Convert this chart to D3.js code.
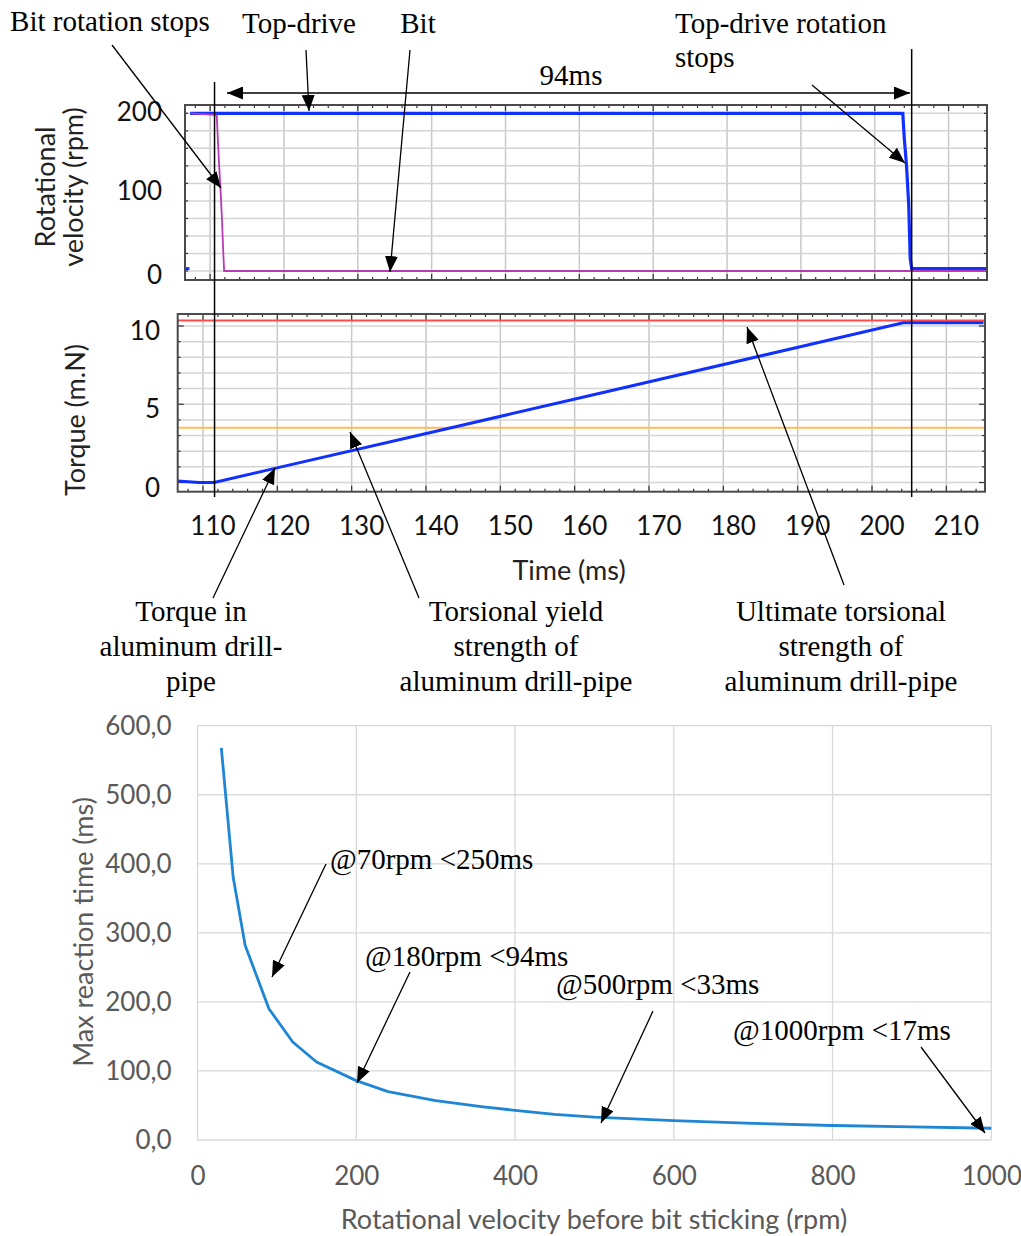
<!DOCTYPE html>
<html>
<head>
<meta charset="utf-8">
<script src="https://cdn.jsdelivr.net/npm/d3@7/dist/d3.min.js"></script>
<style>
  body { margin: 0; background: #fff; }
  svg { display: block; }
</style>
</head>
<body>
<div id="chart"></div>
<script>
// ---- data ----
const timeTicks = [110, 120, 130, 140, 150, 160, 170, 180, 190, 200, 210];
const rpmTicks = [0, 100, 200];
const torqueTicks = [0, 5, 10];

// top-drive rotational velocity (rpm)
const topDriveT = [107.3, 203.8, 204.0, 204.3, 204.6, 204.8, 205.0, 215.2];
const topDriveRpm = [200, 200, 168, 134, 84, 16, 3, 3];
const topDriveStartT = [106.7, 107.2];
const topDriveStartRpm = [3, 3];

// bit rotational velocity (rpm)
const bitT = [107.4, 110.7, 110.9, 111.2, 111.4, 111.6, 111.8, 111.9, 215.2];
const bitRpm = [200, 198, 197, 138, 105, 67, 20, 0, 0];

// torque in aluminum drill-pipe (m.N)
const torqueT = [106.6, 108, 109.5, 111.5, 120.1, 143.1, 163.4, 190.2, 204.2, 215];
const torqueVal = [0.1, 0.05, 0.0, 0.0, 0.95, 3.47, 5.7, 8.66, 10.2, 10.2];
const yieldStrength = 3.5;
const ultimateStrength = 10.35;

// max reaction time vs rotational velocity before bit sticking
const rpmBefore = [30, 45, 60, 90, 120, 150, 200, 240, 300, 360, 400, 450, 500, 600, 700, 800, 900, 1000];
const reactionMs = [568, 380, 282, 190, 142, 113, 86, 70, 57, 48, 43, 37, 33, 28, 24, 21, 19, 17];
const rpmAxisTicks = [0, 200, 400, 600, 800, 1000];
const msAxisTicks = [0, 100, 200, 300, 400, 500, 600];

// ---- layout ----
const W = 1021, H = 1236;
const sans = 'Lato, "Open Sans", sans-serif';
const serif = '"Liberation Serif", "Times New Roman", serif';
const noteSize = 29;

const svg = d3.select('#chart').append('svg')
  .attr('width', W).attr('height', H)
  .attr('viewBox', `0 0 ${W} ${H}`);
svg.append('rect').attr('width', W).attr('height', H).attr('fill', '#fff');

const defs = svg.append('defs');
defs.append('marker')
  .attr('id', 'arrow')
  .attr('markerUnits', 'userSpaceOnUse')
  .attr('markerWidth', 17).attr('markerHeight', 13)
  .attr('refX', 16).attr('refY', 6.5)
  .attr('orient', 'auto-start-reverse')
  .append('path').attr('d', 'M0,0 L16,6.5 L0,13 Z').attr('fill', '#000');

const tDomain = [106.6, 215.2];
const topBox = { l: 185, r: 987, t: 105, b: 280 };
const midBox = { l: 177.7, r: 985, t: 314, b: 491.7 };

const xTop = d3.scaleLinear().domain(tDomain).range([topBox.l, topBox.r]);
const xMid = d3.scaleLinear().domain(tDomain).range([midBox.l, midBox.r]);
const yTop = d3.scaleLinear().domain([0, 200]).range([271, 113.3]);
const yMid = d3.scaleLinear().domain([0, 10]).range([482.5, 326]);

// grid + inward ticks for the two scope-style panels
function panel(box, x, y, hGrid, majorY) {
  const g = svg.append('g');
  g.append('g').selectAll('line').data(timeTicks).join('line')
    .attr('x1', d => x(d)).attr('x2', d => x(d))
    .attr('y1', box.t).attr('y2', box.b)
    .attr('stroke', '#c8c8c8').attr('stroke-width', 1.5);
  g.append('g').selectAll('line').data(hGrid).join('line')
    .attr('x1', box.l).attr('x2', box.r)
    .attr('y1', d => y(d)).attr('y2', d => y(d))
    .attr('stroke', '#d4d4d4').attr('stroke-width', 1.5);
  const minorT = d3.range(108, 215, 2);
  const tk = g.append('g').attr('stroke', '#333').attr('stroke-width', 1.2);
  minorT.forEach(t => {
    const len = timeTicks.includes(t) ? 6 : 3;
    tk.append('line').attr('x1', x(t)).attr('x2', x(t)).attr('y1', box.t).attr('y2', box.t + len);
    tk.append('line').attr('x1', x(t)).attr('x2', x(t)).attr('y1', box.b).attr('y2', box.b - len);
  });
  hGrid.forEach(v => {
    const len = majorY.includes(v) ? 6 : 3;
    tk.append('line').attr('x1', box.l).attr('x2', box.l + len).attr('y1', y(v)).attr('y2', y(v));
    tk.append('line').attr('x1', box.r).attr('x2', box.r - len).attr('y1', y(v)).attr('y2', y(v));
  });
  return g;
}

function frame(box) {
  svg.append('rect')
    .attr('x', box.l).attr('y', box.t)
    .attr('width', box.r - box.l).attr('height', box.b - box.t)
    .attr('fill', 'none').attr('stroke', '#4a4a4a').attr('stroke-width', 2);
}

// ---- top panel: rotational velocity ----
const rpmGrid = d3.range(0, 10).map(i => i * 200 / 9);
panel(topBox, xTop, yTop, rpmGrid, []);

const lineTop = d3.line().x(d => xTop(d[0])).y(d => yTop(d[1]));
svg.append('path')
  .datum(topDriveStartT.map((t, i) => [t, topDriveStartRpm[i]]))
  .attr('d', lineTop).attr('fill', 'none')
  .attr('stroke', '#1030ff').attr('stroke-width', 3);
svg.append('path')
  .datum(topDriveT.map((t, i) => [t, topDriveRpm[i]]))
  .attr('d', lineTop).attr('fill', 'none')
  .attr('stroke', '#1030ff').attr('stroke-width', 3.2);
svg.append('path')
  .datum(bitT.map((t, i) => [t, bitRpm[i]]))
  .attr('d', lineTop).attr('fill', 'none')
  .attr('stroke', '#b83ab8').attr('stroke-width', 1.8);
frame(topBox);

svg.append('g').selectAll('text').data(rpmTicks).join('text')
  .attr('x', 162).attr('y', d => yTop(d) + (d === 0 ? 13 : 8))
  .attr('text-anchor', 'end')
  .attr('font-family', sans).attr('font-size', 26).attr('fill', '#111')
  .text(d => d);

svg.append('text')
  .attr('transform', 'translate(55,187) rotate(-90)')
  .attr('text-anchor', 'middle')
  .attr('font-family', sans).attr('font-size', 27).attr('fill', '#222')
  .text('Rotational');
svg.append('text')
  .attr('transform', 'translate(83,187) rotate(-90)')
  .attr('text-anchor', 'middle')
  .attr('font-family', sans).attr('font-size', 27).attr('fill', '#222')
  .text('velocity (rpm)');

// ---- middle panel: torque ----
panel(midBox, xMid, yMid, d3.range(0, 11), torqueTicks);

svg.append('line')
  .attr('x1', midBox.l).attr('x2', midBox.r)
  .attr('y1', yMid(ultimateStrength)).attr('y2', yMid(ultimateStrength))
  .attr('stroke', '#ff4a4a').attr('stroke-width', 1.8);
svg.append('line')
  .attr('x1', midBox.l).attr('x2', midBox.r)
  .attr('y1', yMid(yieldStrength)).attr('y2', yMid(yieldStrength))
  .attr('stroke', '#ffbb55').attr('stroke-width', 2);

const lineMid = d3.line().x(d => xMid(d[0])).y(d => yMid(d[1]));
svg.append('path')
  .datum(torqueT.map((t, i) => [t, torqueVal[i]]))
  .attr('d', lineMid).attr('fill', 'none')
  .attr('stroke', '#1030ff').attr('stroke-width', 3);
frame(midBox);

svg.append('g').selectAll('text').data(torqueTicks).join('text')
  .attr('x', 160).attr('y', d => yMid(d) + 14)
  .attr('text-anchor', 'end')
  .attr('font-family', sans).attr('font-size', 26).attr('fill', '#111')
  .text(d => d);

svg.append('text')
  .attr('transform', 'translate(85,420) rotate(-90)')
  .attr('text-anchor', 'middle')
  .attr('font-family', sans).attr('font-size', 27).attr('fill', '#222')
  .text('Torque (m.N)');

// time axis labels
svg.append('g').selectAll('text').data(timeTicks).join('text')
  .attr('x', d => xMid(d) + 10).attr('y', 535)
  .attr('text-anchor', 'middle')
  .attr('font-family', sans).attr('font-size', 26).attr('fill', '#111')
  .text(d => d);
svg.append('text')
  .attr('x', 569).attr('y', 580)
  .attr('text-anchor', 'middle')
  .attr('font-family', sans).attr('font-size', 27).attr('fill', '#222')
  .text('Time (ms)');

// event lines (bit stops / top-drive stops)
const bitStop = 110.6, driveStop = 205.0;
svg.append('line')
  .attr('x1', xTop(bitStop)).attr('x2', xTop(bitStop))
  .attr('y1', 82).attr('y2', 497)
  .attr('stroke', '#000').attr('stroke-width', 1.5);
svg.append('line')
  .attr('x1', xTop(driveStop)).attr('x2', xTop(driveStop))
  .attr('y1', 49).attr('y2', 497)
  .attr('stroke', '#000').attr('stroke-width', 1.5);

// ---- annotations ----
function note(lines, x, y, anchor, lh) {
  const t = svg.append('text')
    .attr('font-family', serif).attr('font-size', noteSize).attr('fill', '#000')
    .attr('text-anchor', anchor);
  lines.forEach((s, i) => t.append('tspan').attr('x', x).attr('y', y + i * lh).text(s));
}
function arrow(x1, y1, x2, y2, both) {
  const l = svg.append('line')
    .attr('x1', x1).attr('y1', y1).attr('x2', x2).attr('y2', y2)
    .attr('stroke', '#000').attr('stroke-width', 1.3)
    .attr('marker-end', 'url(#arrow)');
  if (both) l.attr('marker-start', 'url(#arrow)');
}

note(['Bit rotation stops'], 110, 31, 'middle', 0);
arrow(112, 45, 221, 188);
note(['Top-drive'], 299, 33, 'middle', 0);
arrow(306, 50, 309, 111);
note(['Bit'], 418, 33, 'middle', 0);
arrow(410, 50, 390, 272);
note(['Top-drive rotation', 'stops'], 675, 33, 'start', 34);
arrow(812, 85, 905, 163);
note(['94ms'], 571, 85, 'middle', 0);
arrow(227, 93, 910, 93, true);

note(['Torque in', 'aluminum drill-', 'pipe'], 191, 621, 'middle', 35);
arrow(213, 598, 275, 468);
note(['Torsional yield', 'strength of', 'aluminum drill-pipe'], 516, 621, 'middle', 35);
arrow(419, 598, 350, 432);
note(['Ultimate torsional', 'strength of', 'aluminum drill-pipe'], 841, 621, 'middle', 35);
arrow(844, 585, 747, 327);

// ---- bottom chart: max reaction time ----
const bot = { l: 197.5, r: 991.3, t: 725.7, b: 1140 };
const xB = d3.scaleLinear().domain([0, 1000]).range([bot.l, bot.r]);
const yB = d3.scaleLinear().domain([0, 600]).range([bot.b, bot.t]);

const gb = svg.append('g');
gb.append('g').selectAll('line').data(msAxisTicks).join('line')
  .attr('x1', bot.l).attr('x2', bot.r)
  .attr('y1', d => yB(d)).attr('y2', d => yB(d))
  .attr('stroke', '#d9d9d9').attr('stroke-width', 1.3);
gb.append('g').selectAll('line').data(rpmAxisTicks).join('line')
  .attr('x1', d => xB(d)).attr('x2', d => xB(d))
  .attr('y1', bot.t).attr('y2', bot.b)
  .attr('stroke', '#d9d9d9').attr('stroke-width', 1.3);

gb.append('path')
  .datum(rpmBefore.map((r, i) => [r, reactionMs[i]]))
  .attr('d', d3.line().x(d => xB(d[0])).y(d => yB(d[1])))
  .attr('fill', 'none').attr('stroke', '#1f86d6').attr('stroke-width', 2.8)
  .attr('stroke-linejoin', 'round');

const yAxisB = gb.append('g')
  .attr('transform', `translate(${bot.l},0)`)
  .call(d3.axisLeft(yB).tickValues(msAxisTicks).tickSize(0).tickPadding(26)
    .tickFormat(d => d3.format('.1f')(d).replace('.', ',')));
const xAxisB = gb.append('g')
  .attr('transform', `translate(0,${bot.b})`)
  .call(d3.axisBottom(xB).tickValues(rpmAxisTicks).tickSize(0).tickPadding(27)
    .tickFormat(d => String(d)));
[yAxisB, xAxisB].forEach(a => {
  a.select('.domain').remove();
  a.selectAll('text').attr('font-family', sans).attr('font-size', 26).attr('fill', '#595959');
});

gb.append('text')
  .attr('transform', 'translate(93,932) rotate(-90)')
  .attr('text-anchor', 'middle')
  .attr('font-family', sans).attr('font-size', 27).attr('fill', '#595959')
  .text('Max reaction time (ms)');
gb.append('text')
  .attr('x', 594).attr('y', 1229)
  .attr('text-anchor', 'middle')
  .attr('font-family', sans).attr('font-size', 27).attr('fill', '#595959')
  .text('Rotational velocity before bit sticking (rpm)');

note(['@70rpm <250ms'], 330, 869, 'start', 0);
arrow(326, 864, 272, 977);
note(['@180rpm <94ms'], 365, 966, 'start', 0);
arrow(410, 972, 357, 1083);
note(['@500rpm <33ms'], 556, 994, 'start', 0);
arrow(653, 1011, 601, 1123);
note(['@1000rpm <17ms'], 733, 1040, 'start', 0);
arrow(921, 1047, 985, 1133);
</script>
</body>
</html>
